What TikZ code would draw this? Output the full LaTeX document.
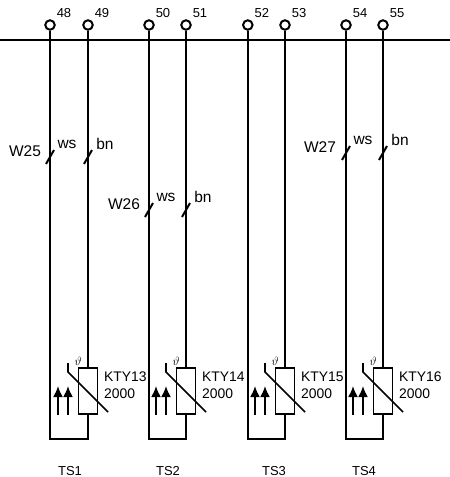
\documentclass[tikz,border=0pt]{standalone}
\usepackage{fontspec}
\setmainfont{Liberation Sans}
\usepackage{tikz}
\usetikzlibrary{arrows.meta}
\tikzset{
    terminal/.style={circle,draw,line width=2pt,inner sep=0pt,minimum size=9.5pt},
    wire/.style={line width=2pt},
    numlabel/.style={inner sep=0pt,font=\fontsize{13}{14}\selectfont},
    wirelabel/.style={inner sep=0pt,font=\fontsize{15.5}{17}\selectfont},
    typelabel/.style={inner sep=0pt,anchor=west,align=left,font=\fontsize{13.9}{17}\selectfont},
    sensor/.style={draw,line width=1.2pt,fill=white,inner sep=0pt,minimum width=19pt,minimum height=46pt},
    uparrow/.style={line width=2pt,-{Latex[length=11pt,width=10pt]}}
}
\begin{document}
\begin{tikzpicture}[x=1pt,y=-1pt]
        \useasboundingbox (0,0) rectangle (450,477);
        \coordinate (busl) at (0,40);
        \coordinate (busr) at (450,40);
        \draw [line width=1.2pt] (busl) -- (busr);

        % one sensor with its two wires
        \foreach \n/\xa/\xb/\numa/\numb/\ts/\tx/\kty in {1/50/88/48/49/TS1/70/KTY13,2/149/186/50/51/TS2/168/KTY14,3/247.8/285/52/53/TS3/274/KTY15,4/346/383/54/55/TS4/364/KTY16}{
            \node [terminal] (ta\n) at (\xa,25) {};
            \node [terminal] (tb\n) at (\xb,25) {};
            \node [numlabel] (na\n) at (\xa+14,13) {\numa};
            \node [numlabel] (nb\n) at (\xb+14,13) {\numb};
            \coordinate (ca\n) at (\xa,439);
            \coordinate (cb\n) at (\xb,439);
            \node [sensor] (r\n) at (\xb,391) {};
            \draw [wire] (ta\n) -- (ca\n) -- (cb\n) -- (r\n.south);
            \draw [wire] (tb\n) -- (r\n.north);
            \coordinate (h\n) at (\xb-20,363);
            \coordinate (k\n) at (\xb-20,372);
            \coordinate (e\n) at (\xb+20,412);
            \draw [line width=1.6pt] (h\n) -- (k\n) -- (e\n);
            \node [inner sep=0pt,font=\fontsize{12}{12}\selectfont] (th\n) at (\xb-10,361) {$\vartheta$};
            \coordinate (aa\n) at (\xb-30,415);
            \coordinate (ab\n) at (\xb-30,386);
            \coordinate (ac\n) at (\xb-20,415);
            \coordinate (ad\n) at (\xb-20,386);
            \draw [uparrow] (aa\n) -- (ab\n);
            \draw [uparrow] (ac\n) -- (ad\n);
            \node [typelabel] (kty\n) at (\xb+16,385) {\kty\\2000};
            \node [numlabel] (ts\n) at (\tx,471) {\ts};
        }

        % cable marks
        \foreach \n/\xa/\xb/\y/\lx/\w in {1/50/88/157/25/W25,2/149/186/210/124/W26,4/346/383/153/320/W27}{
            \coordinate (sa\n) at (\xa-4,\y+7);
            \coordinate (sb\n) at (\xa+4,\y-7);
            \coordinate (sc\n) at (\xb-4,\y+7);
            \coordinate (sd\n) at (\xb+4,\y-7);
            \draw [wire] (sa\n) -- (sb\n);
            \draw [wire] (sc\n) -- (sd\n);
            \node [wirelabel] (w\n) at (\lx,\y-6) {\w};
            \node [wirelabel] (ws\n) at (\xa+17,\y-13) {ws};
            \node [wirelabel] (bn\n) at (\xb+17,\y-13) {bn};
        }
\end{tikzpicture}
\end{document}
